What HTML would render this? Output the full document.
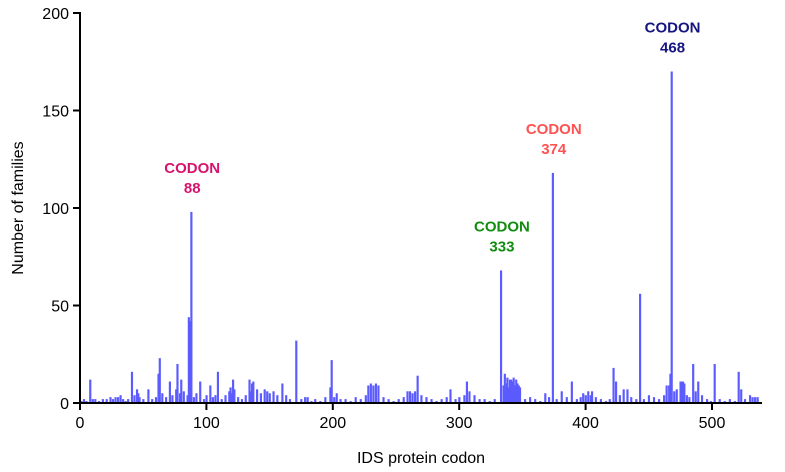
<!DOCTYPE html>
<html><head><meta charset="utf-8"><style>
html,body{margin:0;padding:0;background:#fff;}
svg{display:block;font-family:"Liberation Sans",Arial,sans-serif;}
</style></head><body>
<svg id="chart" width="785" height="472">
<g id="bars"></g>
<g id="axes"></g>
<g id="labels"></g>
</svg>
<script>
const codons = [1,3,5,8,10,12,15,18,21,24,26,28,30,32,34,36,38,41,43,45,46,47,50,54,57,60,62,63,65,68,71,73,76,77,79,80,82,85,86,87,88,90,92,95,98,100,103,105,107,109,112,115,118,119,120,121,122,125,128,131,134,135,136,137,140,143,146,148,150,153,156,160,163,166,171,175,178,180,183,186,190,194,198,199,201,203,206,210,214,218,222,226,228,230,232,234,236,240,244,248,252,256,259,261,263,265,267,270,274,278,282,286,290,293,297,300,304,306,308,312,316,320,324,328,333,335,336,337,338,339,340,341,342,343,344,345,346,347,348,352,356,360,364,368,371,374,377,381,385,389,393,396,398,400,402,404,405,408,412,416,419,422,424,427,430,433,436,440,443,446,450,454,458,462,464,466,467,468,470,472,475,476,477,478,480,482,485,487,489,492,496,499,502,506,510,514,518,521,523,526,530,532,534,536];
const values = [1,2,1,12,2,2,1,2,2,3,2,3,3,4,2,1,2,16,4,7,5,3,2,7,2,3,15,23,5,3,11,4,7,20,5,12,6,4,44,42,98,3,5,11,2,4,9,3,4,16,2,4,6,8,5,12,7,3,2,4,12,6,10,11,7,5,7,6,5,6,4,10,4,2,32,2,3,3,1,2,1,3,8,22,3,5,2,2,1,3,2,4,9,10,9,10,9,3,2,1,2,3,6,6,5,6,14,4,3,2,1,2,3,7,2,3,4,11,6,4,2,2,1,2,68,9,15,10,13,8,12,12,11,13,9,12,10,9,8,2,3,2,1,5,3,118,2,6,3,11,2,3,5,4,6,4,6,3,2,1,2,18,11,4,7,7,3,2,56,2,4,3,2,4,9,9,15,170,6,7,11,11,11,10,4,3,20,6,11,4,2,1,20,2,1,2,1,16,7,2,4,3,3,3];
const xTicks = [0,100,200,300,400,500];
const yTicks = [0,50,100,150,200];
const notes = [{c:88,v:98,t:"88",col:"#d6136e"},{c:333,v:68,t:"333",col:"#118c11"},{c:374,v:118,t:"374",col:"#ff5252"},{c:468,v:170,t:"468",col:"#151580"}];

const NS="http://www.w3.org/2000/svg";
const x0=80,kx=1.264,y0=403,ky=1.95;
const sx=c=>x0+c*kx, sy=v=>y0-v*ky;
function mk(tag,attrs,parent){const e=document.createElementNS(NS,tag);for(const k in attrs)e.setAttribute(k,attrs[k]);parent.appendChild(e);return e;}
const gb=document.getElementById('bars');
codons.forEach((c,i)=>{
  const r=mk('rect',{x:sx(c-0.5)-0.3,y:sy(values[i]),width:kx+0.9,height:values[i]*ky,fill:'#5b5bff'},gb);
  
  
});
const ga=document.getElementById('axes');
let l=mk('line',{x1:x0,y1:sy(200)-1,x2:x0,y2:y0+1,stroke:'#000','stroke-width':2},ga);


l=mk('line',{x1:x0-1,y1:y0,x2:762,y2:y0,stroke:'#000','stroke-width':2},ga);


yTicks.forEach(v=>{
  mk('line',{x1:x0-7,y1:sy(v),x2:x0,y2:sy(v),stroke:'#000','stroke-width':2},ga);
  const t=mk('text',{x:x0-11,y:sy(v)+6,'text-anchor':'end','font-size':16,fill:'#000'},ga);
  t.textContent=v;
  
  
});
xTicks.forEach(v=>{
  mk('line',{x1:sx(v),y1:y0,x2:sx(v),y2:y0+7,stroke:'#000','stroke-width':2},ga);
  const t=mk('text',{x:sx(v),y:y0+25,'text-anchor':'middle','font-size':16,fill:'#000'},ga);
  t.textContent=v;
  
  
});
let t=mk('text',{x:421,y:463,'text-anchor':'middle','font-size':16,fill:'#000'},ga);
t.textContent='IDS protein codon';


t=mk('text',{x:23,y:208,'text-anchor':'middle','font-size':16,fill:'#000',transform:'rotate(-90 23 208)'},ga);
t.textContent='Number of families';


const gl=document.getElementById('labels');
notes.forEach(n=>{
  const cx=sx(n.c)+1, top=sy(n.v);
  let a=mk('text',{x:cx,y:top-39,'text-anchor':'middle','font-size':15,'font-weight':'bold',fill:n.col},gl);
  a.textContent='CODON';
  
  
  a=mk('text',{x:cx,y:top-19,'text-anchor':'middle','font-size':15,'font-weight':'bold',fill:n.col},gl);
  a.textContent=n.t;
  
  
});
</script>
</body></html>
